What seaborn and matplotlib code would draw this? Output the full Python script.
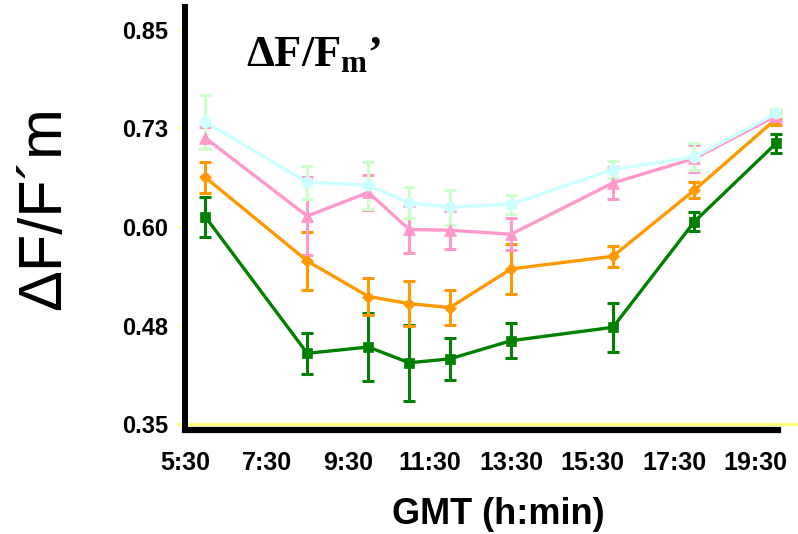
import pandas as pd
import matplotlib
matplotlib.use("Agg")
import matplotlib.pyplot as plt
import seaborn as sns

# --- data ---
times = [6.0, 8.5, 10.0, 11.0, 12.0, 13.5, 16.0, 18.0, 20.0]   # hours GMT

green_vals = [0.613, 0.440, 0.448, 0.428, 0.433, 0.456, 0.473, 0.607, 0.706]
green_err = [0.025, 0.026, 0.043, 0.048, 0.027, 0.022, 0.031, 0.012, 0.012]

orange_vals = [0.663, 0.557, 0.512, 0.503, 0.498, 0.547, 0.563, 0.647, 0.737]
orange_err = [0.020, 0.037, 0.023, 0.029, 0.022, 0.032, 0.013, 0.010, 0.007]

pink_vals = [0.713, 0.614, 0.644, 0.597, 0.596, 0.591, 0.656, 0.687, 0.741]
pink_err = [0.014, 0.049, 0.022, 0.030, 0.024, 0.020, 0.020, 0.017, 0.008]

cyan_vals = [0.733, 0.657, 0.653, 0.631, 0.625, 0.629, 0.673, 0.689, 0.744]
cyan_err = [0.034, 0.021, 0.030, 0.020, 0.022, 0.012, 0.011, 0.017, 0.006]

x_ticks = [5.5, 7.5, 9.5, 11.5, 13.5, 15.5, 17.5, 19.5]
x_labels = ["5:30", "7:30", "9:30", "11:30", "13:30", "15:30", "17:30", "19:30"]
y_ticks = [0.35, 0.475, 0.60, 0.725, 0.85]
y_labels = ["0.35", "0.48", "0.60", "0.73", "0.85"]

series = [
    # name, values, errors, line colour, error colour, marker, marker size
    ("green", green_vals, green_err, "#008000", "#008000", "s", 7),
    ("orange", orange_vals, orange_err, "#FF9900", "#FF9900", "D", 6),
    ("pink", pink_vals, pink_err, "#FF99CC", "#FF99CC", "^", 8),
    ("cyan", cyan_vals, cyan_err, "#CCFFFF", "#CCFFCC", "o", 8),
]

sns.set_theme(style="white")
plt.rcParams["font.family"] = ["Liberation Sans", "DejaVu Sans"]
plt.rcParams["mathtext.fontset"] = "custom"
plt.rcParams["mathtext.rm"] = "Liberation Serif:bold"
plt.rcParams["mathtext.it"] = "Liberation Serif:bold"
plt.rcParams["mathtext.bf"] = "Liberation Serif:bold"
plt.rcParams["mathtext.default"] = "rm"

fig = plt.figure(figsize=(7.98, 5.34), dpi=100)
ax = fig.add_axes([185 / 798, 1 - 430 / 534, 593 / 798, 423 / 534])

# error bars first, lines with markers on top
for name, vals, errs, col, ecol, mk, ms in series:
    ax.errorbar(times, vals, yerr=errs, fmt="none", ecolor=ecol,
                elinewidth=2.2, capsize=4, capthick=2.2, zorder=2, clip_on=False)

for name, vals, errs, col, ecol, mk, ms in series:
    df = pd.DataFrame({"time": times, "value": vals})
    sns.lineplot(data=df, x="time", y="value", ax=ax, color=col,
                 linewidth=2.4, marker=mk, markersize=ms,
                 markeredgecolor=col, markeredgewidth=0.5,
                 errorbar=None, zorder=3, clip_on=False)

ax.set_xlim(5.5, 20.05)
ax.set_ylim(0.3428, 0.879)

ax.set_xticks(x_ticks)
ax.set_xticklabels(x_labels, fontsize=18, fontweight="bold")
ax.set_yticks(y_ticks)
ax.set_yticklabels(y_labels, fontsize=17, fontweight="bold")
ax.tick_params(axis="x", length=0, pad=15, colors="black")
ax.tick_params(axis="y", length=4, width=1.5, color="#FFFF80", pad=8,
               labelcolor="black", left=True, direction="out")
ax.set_xlabel("")
ax.set_ylabel("")

# spines: thick black left and bottom, none elsewhere
for side in ["top", "right"]:
    ax.spines[side].set_visible(False)
ax.spines["left"].set_linewidth(4.3)
ax.spines["bottom"].set_linewidth(4.5)
ax.spines["left"].set_color("black")
ax.spines["bottom"].set_color("black")

# faint yellow line at 0.35 running past the axes
ax.axhline(0.35, xmin=-0.012, xmax=1.04, color="#FFFF80", linewidth=2.5,
           zorder=1, clip_on=False)

fig.text(45 / 798, 1 - 208 / 534, "ΔF/F´m", rotation=90, fontsize=44,
         ha="center", va="center", color="black")
fig.text(498 / 798, 1 - 515 / 534, "GMT (h:min)", fontsize=26,
         fontweight="bold", ha="center", va="center", color="black")
fig.text(246 / 798, 1 - 66 / 534, r"$\Delta F/F_{m}$’", fontsize=32,
         family="Liberation Serif", fontweight="bold", ha="left",
         va="baseline", color="black")

fig.savefig("out.png", dpi=100)
